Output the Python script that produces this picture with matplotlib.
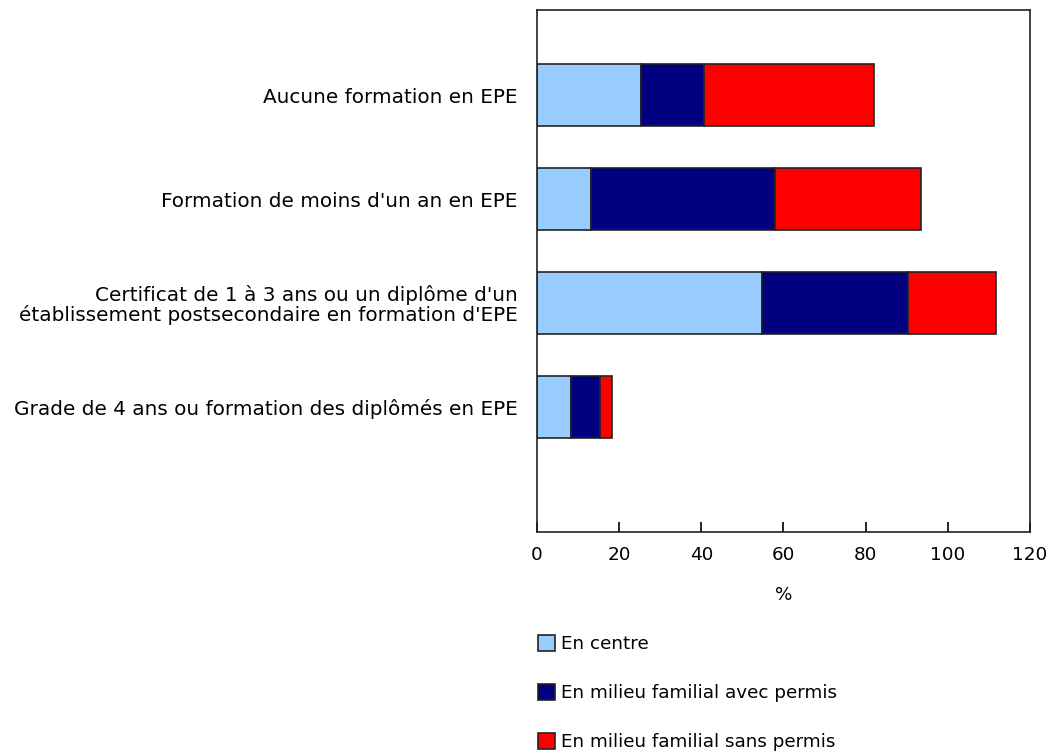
import numpy as np
import matplotlib.pyplot as plt

categories = [
    "Aucune formation en EPE",
    "Formation de moins d'un an en EPE",
    "Certificat de 1 à 3 ans ou un diplôme d'un\nétablissement postsecondaire en formation d'EPE",
    "Grade de 4 ans ou formation des diplômés en EPE",
]
series_names = ["En centre", "En milieu familial avec permis", "En milieu familial sans permis"]
en_centre = [25.4, 13.2, 54.8, 8.2]
avec_permis = [15.3, 44.8, 35.5, 7.2]
sans_permis = [41.4, 35.4, 21.4, 2.9]
colors = ["#99ccff", "#000080", "#ff0000"]

plt.rcParams['font.family'] = ['DejaVu Sans']
fig = plt.figure(figsize=(10.56, 7.52), dpi=100)
ax = fig.add_axes([0.5085, 0.2926, 0.4669, 0.6941])

y = np.arange(len(categories))
left = np.zeros(len(categories))
handles = []
for vals, col, name in zip([en_centre, avec_permis, sans_permis], colors, series_names):
    b = ax.barh(y, vals, left=left, height=0.6, color=col, edgecolor="#222222",
                linewidth=1.2, label=name)
    handles.append(b)
    left += np.array(vals)

ax.set_xlim(0, 120)
ax.set_ylim(4.2, -0.82)
ax.set_xticks(np.arange(0, 121, 20))
ax.set_yticks(y)
ax.set_yticklabels(categories, fontsize=14.4, ha="right", multialignment="right",
                   linespacing=1.0)
ax.tick_params(axis="y", length=0, pad=14)
ax.tick_params(axis="x", direction="in", length=7, width=1.2, labelsize=13.2, pad=10)
for s in ax.spines.values():
    s.set_linewidth(1.2)
    s.set_color("#222222")
ax.set_xlabel("%", fontsize=13.2, labelpad=16)

fig.legend(handles=handles, labels=series_names, loc="upper left",
           bbox_to_anchor=(0.5025, 0.165), frameon=False, fontsize=13.2,
           handlelength=0.93, handleheight=0.93, handletextpad=0.3,
           labelspacing=1.68, borderaxespad=0)

fig.savefig("out.png", dpi=100)
